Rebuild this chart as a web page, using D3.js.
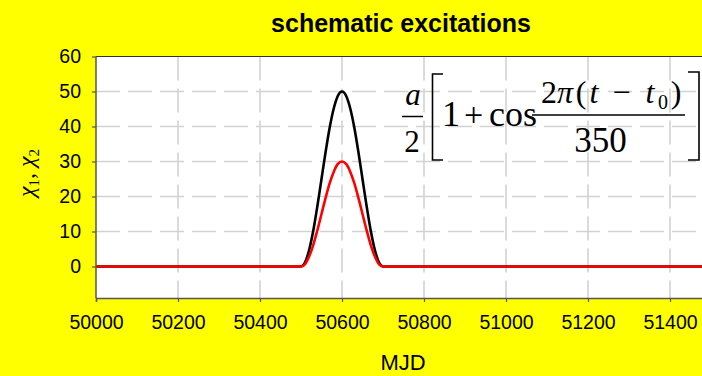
<!DOCTYPE html>
<html>
<head>
<meta charset="utf-8">
<script src="https://cdn.jsdelivr.net/npm/d3@7"></script>
<style>
  html, body { margin: 0; padding: 0; background: #ffff00; }
  svg { display: block; }
</style>
</head>
<body>
<svg id="chart" width="702" height="376"></svg>
<script>
// ---- data ----
const title = "schematic excitations";
const xLabel = "MJD";
const xTicks = [50000, 50200, 50400, 50600, 50800, 51000, 51200, 51400];
const yTicks = [0, 10, 20, 30, 40, 50, 60];
const mjd  = [50000, 50500, 50510, 50520, 50530, 50540, 50550, 50560, 50570, 50580, 50590, 50600,
              50610, 50620, 50630, 50640, 50650, 50660, 50670, 50680, 50690, 50700, 51500];
const chi1 = [0, 0, 1.2, 4.8, 10.3, 17.3, 25, 32.7, 39.7, 45.2, 48.8, 50,
              48.8, 45.2, 39.7, 32.7, 25, 17.3, 10.3, 4.8, 1.2, 0, 0];
const chi2 = [0, 0, 0.7, 2.9, 6.2, 10.4, 15, 19.6, 23.8, 27.1, 29.3, 30,
              29.3, 27.1, 23.8, 19.6, 15, 10.4, 6.2, 2.9, 0.7, 0, 0];

const svg = d3.select("#chart");
const W = 702, H = 376;
const plot = { left: 96, top: 56.5, right: 711, bottom: 298 };

svg.append("rect").attr("width", W).attr("height", H).attr("fill", "#ffff00");

const x = d3.scaleLinear().domain([50000, 51500]).range([plot.left, plot.right]);
const y = d3.scaleLinear().domain([-9, 60]).range([plot.bottom, plot.top]);

// plot area
svg.append("rect")
  .attr("x", plot.left).attr("y", plot.top)
  .attr("width", plot.right - plot.left).attr("height", plot.bottom - plot.top)
  .attr("fill", "#ffffff");

// grid
const grid = svg.append("g").attr("stroke", "#d2d2d2").attr("stroke-width", 1.6)
  .attr("stroke-dasharray", "24,8");
grid.selectAll("line.h").data(yTicks.filter(d => d > 0 && d < 60)).join("line")
  .attr("class", "h")
  .attr("x1", plot.left).attr("x2", plot.right)
  .attr("y1", d => y(d)).attr("y2", d => y(d));
grid.selectAll("line.v").data(xTicks.filter(d => d > 50000)).join("line")
  .attr("class", "v")
  .attr("x1", d => x(d)).attr("x2", d => x(d))
  .attr("y1", plot.top).attr("y2", plot.bottom);

// border (top)
svg.append("line").attr("x1", plot.left).attr("x2", plot.right)
  .attr("y1", plot.top).attr("y2", plot.top)
  .attr("stroke", "#333").attr("stroke-width", 1);

// curves
const line = d3.line().x((d, i) => x(mjd[i])).y(d => y(d)).curve(d3.curveMonotoneX);
svg.append("path").attr("d", line(chi1)).attr("fill", "none")
  .attr("stroke", "#000").attr("stroke-width", 2.6);
svg.append("path").attr("d", line(chi2)).attr("fill", "none")
  .attr("stroke", "#ff0000").attr("stroke-width", 2.6);

// axes
const xAxis = svg.append("g").attr("transform", `translate(0,${plot.bottom})`)
  .call(d3.axisBottom(x).tickValues(xTicks).tickFormat(d3.format("d")).tickSizeOuter(0).tickSize(4).tickPadding(13));
const yAxis = svg.append("g").attr("transform", `translate(${plot.left},0)`)
  .call(d3.axisLeft(y).tickValues(yTicks).tickSizeOuter(0).tickSize(4).tickPadding(11));
[xAxis, yAxis].forEach(a => {
  a.select(".domain").attr("stroke", "#555").attr("stroke-width", 1.5);
  a.selectAll(".tick line").attr("stroke", "#555").attr("stroke-width", 1.2);
  a.selectAll("text").attr("font-family", "Liberation Sans, Arial, sans-serif")
    .attr("font-size", 19.5).attr("fill", "#000");
});
yAxis.select(".domain").attr("d", `M0,${plot.top}V${plot.bottom}`);

// title
svg.append("text").attr("x", 401).attr("y", 32).attr("text-anchor", "middle")
  .attr("font-family", "Liberation Sans, Arial, sans-serif").attr("font-weight", "bold")
  .attr("font-size", 25).text(title);

// x label
svg.append("text").attr("x", 403).attr("y", 370).attr("text-anchor", "middle")
  .attr("font-family", "Liberation Sans, Arial, sans-serif")
  .attr("font-size", 22).text(xLabel);

// y label
const yl = svg.append("text").attr("transform", "translate(34,173) rotate(-90)")
  .attr("text-anchor", "middle")
  .attr("font-family", "Liberation Serif, Times New Roman, serif")
  .attr("font-size", 24);
yl.append("tspan").attr("font-style", "italic").text("χ");
yl.append("tspan").attr("font-size", 15).attr("dy", 5).text("1");
yl.append("tspan").attr("dy", -5).text(", ");
yl.append("tspan").attr("font-style", "italic").text("χ");
yl.append("tspan").attr("font-size", 15).attr("dy", 5).text("2");

// formula
const F = svg.append("g").attr("font-family", "Liberation Serif, Times New Roman, serif").attr("fill", "#000");
function t(xc, yb, s, size, italic, anchor) {
  F.append("text").attr("x", xc).attr("y", yb).attr("text-anchor", anchor || "middle")
    .attr("font-size", size).attr("font-style", italic ? "italic" : "normal").text(s);
}
t(413, 105, "a", 31, true);
F.append("line").attr("x1", 402).attr("x2", 423).attr("y1", 116.5).attr("y2", 116.5).attr("stroke", "#000").attr("stroke-width", 1.5);
t(412, 151.5, "2", 31, false);
F.append("path").attr("d", "M443,74H432.5V160H443").attr("fill", "none").attr("stroke", "#000").attr("stroke-width", 1.6);
t(451, 126, "1", 36, false);
t(473.5, 126, "+", 34, false);
t(513, 126, "cos", 36, false);
F.append("line").attr("x1", 532).attr("x2", 685).attr("y1", 115).attr("y2", 115).attr("stroke", "#000").attr("stroke-width", 1.5);
t(549, 103, "2", 32, false);
t(565, 103, "π", 32, true);
t(581, 103, "(", 32, false);
t(594, 103, "t", 32, true);
t(621.5, 103, "−", 32, false);
t(650, 103, "t", 32, true);
t(663, 109, "0", 20, false);
t(676, 103, ")", 32, false);
t(600.5, 152, "350", 35, false);
F.append("path").attr("d", "M688,72H699V160H688").attr("fill", "none").attr("stroke", "#000").attr("stroke-width", 1.6);
</script>
</body>
</html>
